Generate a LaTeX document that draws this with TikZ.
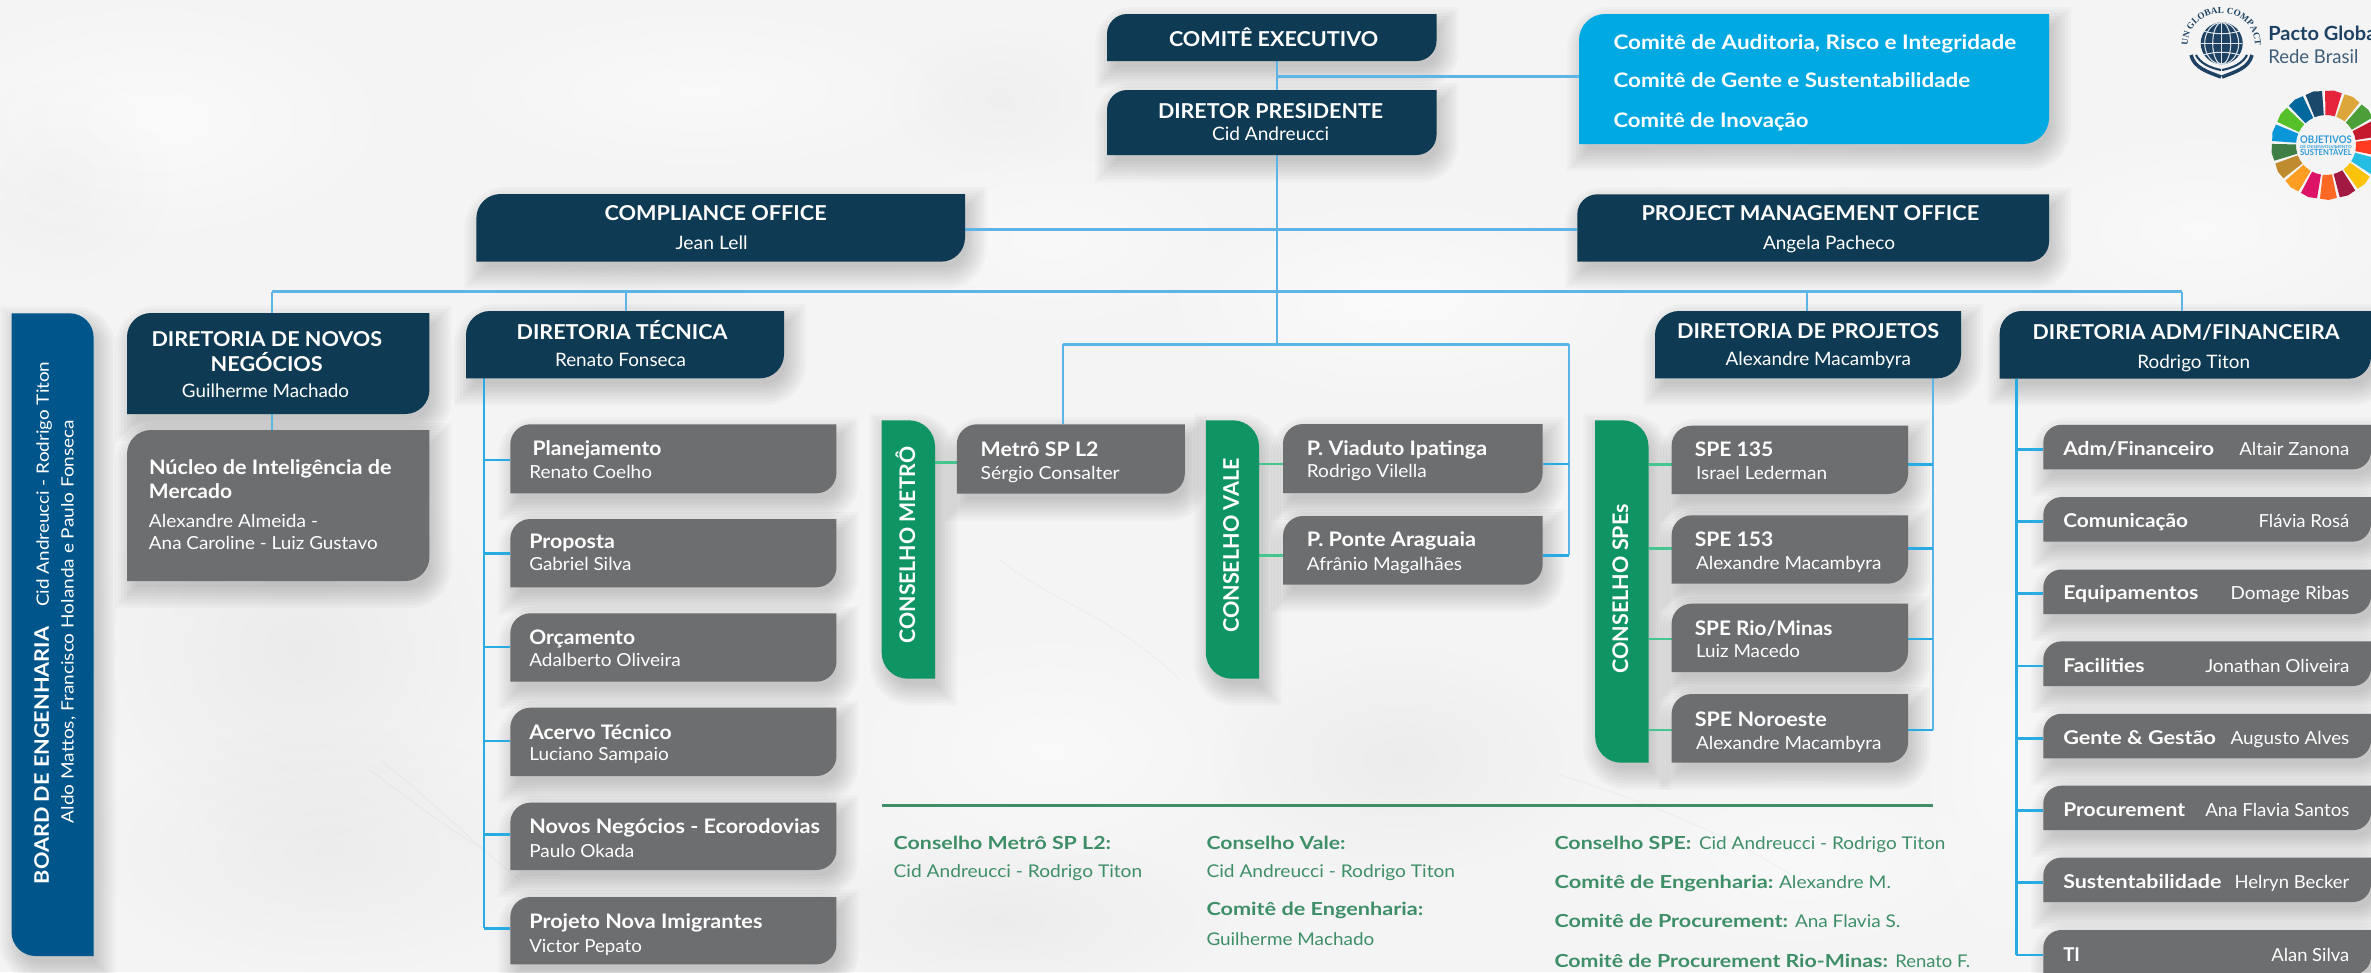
\documentclass[tikz,border=0pt]{standalone}
\usepackage{fontspec}
\usepackage{graphicx}
\setmainfont{Lato}
\newfontfamily\serfont{Liberation Serif}
\usetikzlibrary{decorations.text,fadings}
\pgfdeclarelayer{bgl}\pgfdeclarelayer{shadowl}\pgfdeclarelayer{linesl}
\pgfsetlayers{bgl,shadowl,linesl,main}
\definecolor{navy}{HTML}{0F3A53}
\definecolor{grayb}{HTML}{6D6E70}
\definecolor{cyanb}{HTML}{00A9E2}
\definecolor{boardb}{HTML}{00568B}
\definecolor{greenb}{HTML}{0F9464}
\definecolor{linec}{HTML}{5DB5E6}
\definecolor{linek}{HTML}{29ABE2}
\definecolor{lineg}{HTML}{45C58F}
\definecolor{legend}{HTML}{3E8F68}
\definecolor{paper}{HTML}{F4F4F4}
\definecolor{pacto}{HTML}{1D4263}
\definecolor{sdgtext}{HTML}{2E9AD8}
\tikzfading[name=softblob,inner color=transparent!0,outer color=transparent!100]
\tikzset{
 conn/.style={draw=linec,line width=0.55pt},
 connt/.style={draw=linec,line width=0.9pt},
 connk/.style={draw=linek,line width=0.75pt},
 conng/.style={draw=lineg,line width=0.75pt},
 hold/.style={inner sep=0pt,outer sep=0pt},
 crack/.style={draw=black,opacity=0.022,line width=0.4pt},
}
\newcommand\shapeA[5]{({#1+#5},{#2}) -- ({#3},{#2}) -- ({#3},{#4-#5}) .. controls ({#3},{#4-0.45*#5}) and ({#3-0.45*#5},{#4}) .. ({#3-#5},{#4}) -- ({#1},{#4}) -- ({#1},{#2+#5}) .. controls ({#1},{#2+0.45*#5}) and ({#1+0.45*#5},{#2}) .. ({#1+#5},{#2}) -- cycle}
\newcommand\shapeB[5]{({#1},{#2}) -- ({#3-#5},{#2}) .. controls ({#3-0.45*#5},{#2}) and ({#3},{#2+0.45*#5}) .. ({#3},{#2+#5}) -- ({#3},{#4}) -- ({#1+#5},{#4}) .. controls ({#1+0.45*#5},{#4}) and ({#1},{#4-0.45*#5}) .. ({#1},{#4-#5}) -- ({#1},{#2}) -- cycle}
% \Bx{shape}{name}{x1}{y1}{x2}{y2}{colour}{radius}
\newcommand\Bx[8]{%
 \begin{pgfonlayer}{shadowl}
 \foreach \dd in {-4,-1,2,5,8,11,14,17}{
  \pgfmathsetmacro\rs{max(#8+\dd,2)}
  \fill[black,opacity=0.024] \csname shape#1\endcsname{#3+5-\dd}{#4+10-\dd}{#5+5+\dd}{#6+10+\dd}{\rs};
 }
 \end{pgfonlayer}
 \fill[#7] \csname shape#1\endcsname{#3}{#4}{#5}{#6}{#8};
 \node[hold,minimum width={(#5-#3)*0.01cm},minimum height={(#6-#4)*0.01cm}] (#2) at ({(#3+#5)/2},{(#4+#6)/2}) {};
}
\newsavebox\tb
\newcounter{tn}
% \T[rotate]{x}{baseline}{width}{size}{format}{text}
\newcommand\T[7][0]{%
 \pgfmathsetmacro\fsz{#5*0.28453}%
 \global\setbox\tb\hbox{\pgfinterruptpicture\fontsize{\fsz pt}{\fsz pt}\selectfont #6#7\endpgfinterruptpicture}%
 \pgfmathsetmacro\rr{(#4*0.28453)/(\the\wd\tb)}%
 \stepcounter{tn}%
 \node[hold,anchor=base west,rotate=#1] (t\thetn) at (#2,#3) {\scalebox{\rr}[1]{\usebox\tb}};
}
\newcommand\W{\color{white}}
\newcommand\WB{\color{white}\bfseries}
\newcommand\G{\color{legend}}
\newcommand\GB{\color{legend}\bfseries}
\begin{document}
\begin{tikzpicture}[x=0.01cm,y=-0.01cm]
\useasboundingbox (0,0) rectangle (2371,972);
\begin{pgfonlayer}{bgl}
\fill[paper] (0,0) rectangle (2371,972);
% marble paper: soft blotches and faint veins
\begin{scope}
\clip (0,0) rectangle (2371,972);
\foreach \ex/\ey/\er/\es/\ec/\eo in {
 150/120/260/130/white/.6, 700/90/280/90/white/.5, 1050/240/200/100/white/.45, 1400/300/260/110/white/.6,
 1750/130/200/90/white/.4, 2200/230/220/110/white/.5, 300/650/220/200/black/.035, 620/320/160/60/black/.02,
 330/850/250/130/black/.03, 1050/750/220/130/white/.5, 1400/760/200/120/black/.03, 1000/920/240/90/black/.03,
 1800/860/220/100/white/.45, 60/180/120/110/black/.02, 1000/100/120/80/black/.02, 2000/760/90/220/white/.4}
 \fill[\ec,opacity=\eo,path fading=softblob] (\ex,\ey) ellipse [x radius=\er,y radius=\es];
\draw[crack] (380,760) .. controls (420,790) and (470,840) .. (520,880);
\draw[crack] (370,770) .. controls (410,800) and (450,830) .. (485,850);
\draw[crack] (1560,775) .. controls (1640,800) and (1720,830) .. (1800,880);
\draw[crack] (1000,560) .. controls (1050,600) and (1120,620) .. (1180,680);
\end{scope}
\end{pgfonlayer}

% boxes
\Bx{A}{ce}{1107}{14}{1436.5}{61}{navy}{20}
\Bx{A}{dp}{1107}{90}{1436.5}{155}{navy}{20}
\Bx{A}{cm}{1579}{14}{2049}{144}{cyanb}{26}
\Bx{A}{co}{476.4}{194}{965}{261.7}{navy}{24}
\Bx{A}{pm}{1577.3}{194.3}{2049}{261.7}{navy}{20}
\Bx{A}{dn}{127}{313}{429.4}{414}{navy}{24}
\Bx{A}{nu}{127}{430}{429.4}{581}{grayb}{24}
\Bx{B}{bo}{11.5}{313.3}{93.6}{956}{boardb}{24}
\Bx{A}{dt}{466}{311}{784}{378.3}{navy}{24}
\Bx{A}{d1}{510.3}{424.3}{836.4}{493.3}{grayb}{20}
\Bx{A}{d2}{510.3}{519}{836.4}{587.3}{grayb}{20}
\Bx{A}{d3}{510.3}{613.3}{836.4}{681.7}{grayb}{20}
\Bx{A}{d4}{510.3}{707.7}{836.4}{776}{grayb}{20}
\Bx{A}{d5}{510.3}{802.7}{836.4}{870}{grayb}{20}
\Bx{A}{d6}{510.3}{897}{836.4}{964.3}{grayb}{20}
\Bx{B}{gm}{881.7}{420.3}{935}{678.7}{greenb}{26}
\Bx{A}{mt}{956.8}{424.3}{1184.8}{493.7}{grayb}{20}
\Bx{B}{gv}{1205.8}{420.3}{1259}{678.7}{greenb}{26}
\Bx{A}{vi}{1283}{424}{1542.6}{493}{grayb}{20}
\Bx{A}{po}{1283}{516}{1542.6}{584.7}{grayb}{20}
\Bx{B}{gs}{1595.2}{420.3}{1648.5}{762.7}{greenb}{26}
\Bx{A}{s1}{1671.6}{425.7}{1908}{494}{grayb}{20}
\Bx{A}{s2}{1671.6}{515.3}{1908}{583.7}{grayb}{20}
\Bx{A}{s3}{1671.6}{603.7}{1908}{672}{grayb}{20}
\Bx{A}{s4}{1671.6}{694}{1908}{762.7}{grayb}{20}
\Bx{A}{dj}{1655}{311}{1961}{378.3}{navy}{24}
\Bx{A}{da}{1999.7}{311}{2371}{378.6}{navy}{22}
\Bx{A}{a1}{2043.3}{424.8}{2371}{469.3}{grayb}{18}
\Bx{A}{a2}{2043.3}{497.1}{2371}{541.6}{grayb}{18}
\Bx{A}{a3}{2043.3}{569.5}{2371}{614}{grayb}{18}
\Bx{A}{a4}{2043.3}{641.4}{2371}{686}{grayb}{18}
\Bx{A}{a5}{2043.3}{713.8}{2371}{758.3}{grayb}{18}
\Bx{A}{a6}{2043.3}{785.7}{2371}{830.2}{grayb}{18}
\Bx{A}{a7}{2043.3}{857.6}{2371}{902}{grayb}{18}
\Bx{A}{a8}{2043.3}{930}{2371}{974.5}{grayb}{18}

% connectors
\coordinate (vt) at (1276.7,0);
\coordinate (bus) at (0,291.7);
\coordinate (bus2) at (0,344.3);
\coordinate (xl) at (1062.7,0);
\coordinate (xr) at (1569,0);
\coordinate (tn) at (271.7,0);
\coordinate (tt) at (625.7,0);
\coordinate (tj) at (1807,0);
\coordinate (ta) at (2181.6,0);
\coordinate (kt) at (484,0);
\coordinate (kj) at (1933.3,0);
\coordinate (ka) at (2016.3,0);
\begin{pgfonlayer}{linesl}
\draw[conn] (ce.south -| vt) -- (dp.north -| vt);
\draw[conn] (dp.south -| vt) -- (bus2 -| vt);
\draw[connt] (vt |- 0,76.7) -- (cm.west |- 0,76.7);
\draw[connt] (co.east |- 0,229.3) -- (pm.west |- 0,229.3);
\draw[connt] (bus -| tn) -- (bus -| ta);
\draw[conn] (bus -| tn) -- (dn.north -| tn);
\draw[conn] (bus -| tt) -- (dt.north -| tt);
\draw[conn] (bus -| tj) -- (dj.north -| tj);
\draw[conn] (bus -| ta) -- (da.north -| ta);
\draw[conn] (dn.south -| tn) -- (nu.north -| tn);
\draw[connt] (bus2 -| xl) -- (bus2 -| xr);
\draw[conn] (bus2 -| xl) -- (mt.north -| xl);
\draw[conn] (bus2 -| xr) -- (xr |- 0,555.3);
\draw[connk] (vi.east |- 0,464) -- (xr |- 0,464);
\draw[connk] (po.east |- 0,555.3) -- (xr |- 0,555.3);
\draw[conng] (gm.east |- 0,462.7) -- (mt.west |- 0,462.7);
\draw[conng] (gv.east |- 0,464) -- (vi.west |- 0,464);
\draw[conng] (gv.east |- 0,555.3) -- (po.west |- 0,555.3);
\draw[conng] (gs.east |- 0,464.3) -- (s1.west |- 0,464.3);
\draw[conng] (gs.east |- 0,548.3) -- (s2.west |- 0,548.3);
\draw[conng] (gs.east |- 0,639) -- (s3.west |- 0,639);
\draw[conng] (gs.east |- 0,730) -- (s4.west |- 0,730);
\draw[conn] (dj.south -| kj) -- (kj |- 0,730);
\draw[connk] (s1.east |- 0,464.3) -- (kj |- 0,464.3);
\draw[connk] (s2.east |- 0,548.3) -- (kj |- 0,548.3);
\draw[connk] (s3.east |- 0,639) -- (kj |- 0,639);
\draw[connk] (s4.east |- 0,730) -- (kj |- 0,730);
\draw[connk] (dt.south -| kt) -- (kt |- 0,928.3);
\foreach \n/\y in {d1/460,d2/553.3,d3/647,d4/741,d5/834.7,d6/928.3}
  \draw[connk] (kt |- 0,\y) -- (\n.west |- 0,\y);
\draw[connk] (da.south -| ka) -- (ka |- 0,955);
\foreach \n/\y in {a1/449.3,a2/521.2,a3/593.6,a4/666,a5/738.3,a6/810.7,a7/882.6,a8/955}
  \draw[connk] (ka |- 0,\y) -- (\n.west |- 0,\y);
\end{pgfonlayer}

% top
\T{1169}{46.7}{209}{20.5}{\W\bfseries}{COMITÊ EXECUTIVO}
\T{1158}{118}{225}{20.5}{\WB}{DIRETOR PRESIDENTE}
\T{1212}{140}{117}{18.5}{\W}{Cid Andreucci}
\T{1613.5}{49}{402.5}{20}{\WB}{Comitê de Auditoria, Risco e Integridade}
\T{1613.5}{87}{356.5}{20}{\WB}{Comitê de Gente e Sustentabilidade}
\T{1613.5}{127}{195}{20}{\WB}{Comitê de Inovação}
\T{604.5}{220.7}{222}{20.5}{\WB}{COMPLIANCE OFFICE}
\T{675.6}{249}{72}{18.5}{\W}{Jean Lell}
\T{1641.5}{220.7}{337.5}{20.5}{\WB}{PROJECT MANAGEMENT OFFICE}
\T{1763}{249}{132}{18.5}{\W}{Angela Pacheco}
% novos
\T{151.5}{346.7}{230.5}{20.5}{\WB}{DIRETORIA DE NOVOS}
\T{210.7}{371.7}{112}{20.5}{\WB}{NEGÓCIOS}
\T{182}{397}{167}{18.5}{\W}{Guilherme Machado}
\T{149}{474}{242.5}{20}{\WB}{Núcleo de Inteligência de}
\T{149}{498}{83}{20}{\WB}{Mercado}
\T{149}{527.7}{169}{18}{\W}{Alexandre Almeida -}
\T{149}{549}{228.5}{18}{\W}{Ana Caroline - Luiz Gustavo}
% board
\T[90]{48.8}{884}{257}{20}{\WB}{BOARD DE ENGENHARIA}
\T[90]{48.8}{606.7}{245}{17}{\W}{Cid Andreucci - Rodrigo Titon}
\T[90]{73.5}{823}{403}{17}{\W}{Aldo Mattos, Francisco Holanda e Paulo Fonseca}
% tecnica
\T{516.6}{339.3}{210.7}{20.5}{\WB}{DIRETORIA TÉCNICA}
\T{555}{366}{131}{18.5}{\W}{Renato Fonseca}
\T{532.7}{455.7}{128.6}{20}{\WB}{Planejamento}
\T{529.3}{478}{122.7}{18}{\W}{Renato Coelho}
\T{529.3}{548.3}{85.5}{20}{\WB}{Proposta}
\T{529.3}{570.7}{102.2}{18}{\W}{Gabriel Silva}
\T{529.3}{644}{105.7}{20}{\WB}{Orçamento}
\T{529.3}{666}{151.5}{18}{\W}{Adalberto Oliveira}
\T{529.3}{739}{142.3}{20}{\WB}{Acervo Técnico}
\T{529.3}{760}{139.5}{18}{\W}{Luciano Sampaio}
\T{529.3}{833.3}{290.4}{20}{\WB}{Novos Negócios - Ecorodovias}
\T{529.3}{857.7}{105}{18}{\W}{Paulo Okada}
\T{529.3}{928.3}{233}{20}{\WB}{Projeto Nova Imigrantes}
\T{529.3}{952.7}{112.5}{18}{\W}{Victor Pepato}
% conselhos
\T[90]{915}{643.3}{196.6}{21.5}{\WB}{CONSELHO METRÔ}
\T{980.7}{456}{117.8}{20}{\WB}{Metrô SP L2}
\T{980.7}{479.3}{138.9}{18}{\W}{Sérgio Consalter}
\T[90]{1238.8}{632.7}{174.4}{21.5}{\WB}{CONSELHO VALE}
\T{1306.9}{455}{180.1}{20}{\WB}{P. Viaduto Ipatinga}
\T{1306.9}{477.7}{119.9}{18}{\W}{Rodrigo Vilella}
\T{1306.9}{546.7}{169.1}{20}{\WB}{P. Ponte Araguaia}
\T{1306.9}{570}{155}{18}{\W}{Afrânio Magalhães}
\T[90]{1628}{673.3}{169}{21.5}{\WB}{CONSELHO SPEs}
\T{1694.8}{456.7}{78.6}{20}{\WB}{SPE 135}
\T{1696}{479.3}{131}{18}{\W}{Israel Lederman}
\T{1694.8}{546}{78.6}{20}{\WB}{SPE 153}
\T{1696}{569.3}{185.4}{18}{\W}{Alexandre Macambyra}
\T{1694.8}{635}{137.5}{20}{\WB}{SPE Rio/Minas}
\T{1696}{657.3}{104}{18}{\W}{Luiz Macedo}
\T{1694.8}{726}{131.9}{20}{\WB}{SPE Noroeste}
\T{1696}{749}{185.4}{18}{\W}{Alexandre Macambyra}
\T{1677}{338.3}{262}{20.5}{\WB}{DIRETORIA DE PROJETOS}
\T{1725.7}{365.7}{185.2}{18.5}{\W}{Alexandre Macambyra}
% adm
\T{2032.7}{339.5}{306.6}{20.5}{\WB}{DIRETORIA ADM/FINANCEIRA}
\T{2137.3}{368}{112.7}{18.5}{\W}{Rodrigo Titon}
\T{2063.3}{455}{150.7}{19}{\WB}{Adm/Financeiro}
\T{2239.3}{455}{110}{18}{\W}{Altair Zanona}
\T{2063.3}{527}{124.7}{19}{\WB}{Comunicação}
\T{2258.6}{527}{90.7}{18}{\W}{Flávia Rosá}
\T{2063.3}{599.4}{135}{19}{\WB}{Equipamentos}
\T{2230.6}{599.4}{118.7}{18}{\W}{Domage Ribas}
\T{2063.3}{672.6}{81.3}{19}{\WB}{Facilities}
\T{2205.3}{672.6}{144}{18}{\W}{Jonathan Oliveira}
\T{2063.3}{744}{152.7}{19}{\WB}{Gente \& Gestão}
\T{2230.6}{744}{118.7}{18}{\W}{Augusto Alves}
\T{2063.3}{816.5}{121.7}{19}{\WB}{Procurement}
\T{2205.3}{816.5}{144}{18}{\W}{Ana Flavia Santos}
\T{2063.3}{888.8}{158}{19}{\WB}{Sustentabilidade}
\T{2234.6}{888.8}{114.7}{18}{\W}{Helryn Becker}
\T{2063.3}{961}{16.7}{19}{\WB}{TI}
\T{2271.3}{961}{78}{18}{\W}{Alan Silva}
% legend
\coordinate (la) at (881.7,805.3);
\coordinate (lb) at (1933.3,805.3);
\draw[legend,line width=0.75pt] (la) -- (lb);
\T{893.7}{849.3}{217.3}{18}{\GB}{Conselho Metrô SP L2:}
\T{893.7}{877.7}{248.3}{17.5}{\G}{Cid Andreucci - Rodrigo Titon}
\T{1206.5}{849.3}{138.9}{18}{\GB}{Conselho Vale:}
\T{1206.5}{877.7}{248.4}{17.5}{\G}{Cid Andreucci - Rodrigo Titon}
\T{1206.5}{915}{216.8}{18}{\GB}{Comitê de Engenharia:}
\T{1206.5}{945}{167.7}{17.5}{\G}{Guilherme Machado}
\T{1554.5}{849.3}{136.8}{18}{\GB}{Conselho SPE:}
\T{1699}{849.3}{246.2}{17.5}{\G}{Cid Andreucci - Rodrigo Titon}
\T{1554.5}{888.3}{218.9}{18}{\GB}{Comitê de Engenharia:}
\T{1779}{888.3}{112}{17.5}{\G}{Alexandre M.}
\T{1554.5}{927.3}{233.5}{18}{\GB}{Comitê de Procurement:}
\T{1795}{927.3}{105.3}{17.5}{\G}{Ana Flavia S.}
\T{1554.5}{967.7}{333.2}{18}{\GB}{Comitê de Procurement Rio-Minas:}
\T{1895.4}{967.7}{74.6}{17.5}{\G}{Renato F.}

% Pacto Global logo
\fill[pacto] (2221.7,43.3) circle (21);
\begin{scope}
\clip (2221.7,43.3) circle (21);
\draw[white!85!pacto,line width=0.3pt] (2221.7,22) -- (2221.7,65);
\draw[white!85!pacto,line width=0.3pt] (2221.7,43.3) ellipse (9 and 21);
\draw[white!85!pacto,line width=0.3pt] (2221.7,43.3) ellipse (17 and 21);
\draw[white!85!pacto,line width=0.3pt] (2200,43.3) -- (2243,43.3);
\draw[white!85!pacto,line width=0.3pt] (2200,30) .. controls (2215,35) and (2228,35) .. (2243,30);
\draw[white!85!pacto,line width=0.3pt] (2200,56) .. controls (2215,51) and (2228,51) .. (2243,56);
\end{scope}
\path[decorate,decoration={text along path,text align=center,text={|\serfont\fontsize{2.6pt}{3pt}\selectfont\bfseries\color{pacto}|UN GLOBAL COMPACT}}]
 (2188,50) .. controls (2184,1) and (2259,1) .. (2255,50);
\draw[pacto,line width=1pt] (2191,55) .. controls (2194,68) and (2208,72) .. (2221,77);
\draw[pacto,line width=1pt] (2252,55) .. controls (2249,68) and (2235,72) .. (2222,77);
\draw[pacto,line width=0.6pt] (2196,55) .. controls (2200,63) and (2210,68) .. (2221,70);
\draw[pacto,line width=0.6pt] (2247,55) .. controls (2243,63) and (2233,68) .. (2222,70);
\T{2268.3}{40}{113}{19.5}{\color{pacto}\bfseries}{Pacto Global}
\T{2268.3}{63.3}{90}{19}{\color{pacto!85!white}}{Rede Brasil}
% SDG wheel
\begin{scope}[shift={(2326,145)}]
\foreach \c [count=\i from 0] in {E5243B,DDA63A,4C9F38,C5192D,FF3A21,26BDE2,FCC30B,A21942,FD6925,DD1367,FD9D24,BF8B2E,3F7E44,0A97D9,56C02B,00689D,19486A}{
 \definecolor{w}{HTML}{\c}
 \pgfmathsetmacro\am{-82+\i*21.176}
 \pgfmathsetmacro\aa{\am-9}
 \pgfmathsetmacro\ab{\am+9}
 \fill[w] (\aa:30) -- (\aa:54) -- (\am:55) -- (\ab:54) -- (\ab:30) -- (\am:30) -- cycle;
}
\end{scope}
\T{2300}{143.3}{51.7}{10.5}{\color{sdgtext}\bfseries}{OBJETIVOS}
\T{2300}{148.5}{51.7}{4}{\color{sdgtext}\bfseries}{DE DESENVOLVIMENTO}
\T{2300}{155}{51.7}{8.5}{\color{sdgtext}\bfseries}{SUSTENTÁVEL}
\end{tikzpicture}
\end{document}
